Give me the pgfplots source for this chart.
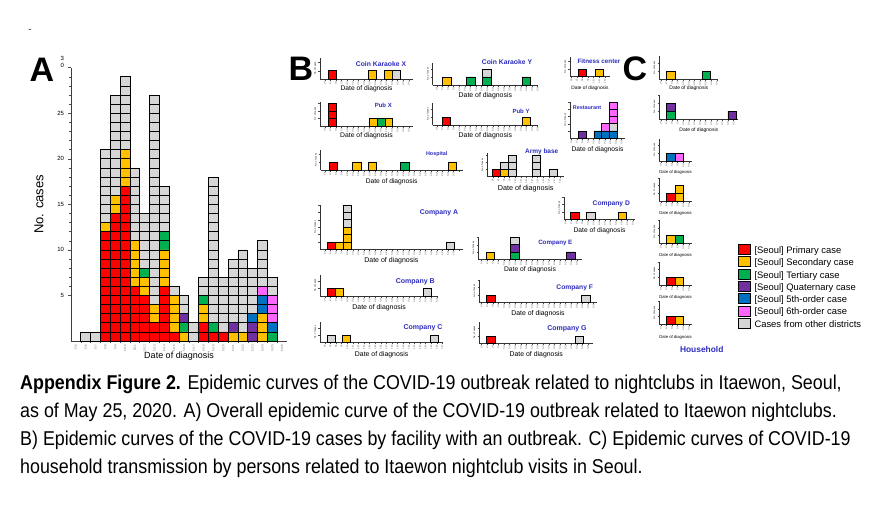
\documentclass[border=0pt]{standalone}
\usepackage{fontspec}
\setmainfont{Liberation Sans}
\newfontfamily\capfont[FakeStretch=0.893]{Liberation Sans}
\usepackage{pgfplots}
\usepackage{pgfplotstable}
\pgfplotsset{compat=1.18}

\definecolor{cR}{RGB}{255,0,0}
\definecolor{cO}{RGB}{255,192,0}
\definecolor{cG}{RGB}{0,176,80}
\definecolor{cP}{RGB}{112,48,160}
\definecolor{cB}{RGB}{0,112,192}
\definecolor{cM}{RGB}{255,102,255}
\definecolor{cK}{RGB}{214,214,214}
\definecolor{ttlc}{RGB}{45,45,190}

% columns: r primary, o secondary, g tertiary, p quaternary, b 5th, q other districts (below 6th), m 6th, k other districts, t total
% panel A, slot 0 = 5/5
\pgfplotstableread{
x r o g p b q m k t
1 0 0 0 0 0 0 0 1 1
2 0 0 0 0 0 0 0 1 1
3 12 1 0 0 0 0 0 8 21
4 14 2 0 0 0 0 0 11 27
5 17 4 0 0 0 0 0 8 29
6 6 5 0 0 0 0 0 8 19
7 5 2 1 0 0 0 0 6 14
8 2 2 0 0 0 0 0 23 27
9 6 4 2 0 0 0 0 5 17
10 1 4 0 0 0 0 0 1 6
11 0 1 1 1 0 0 0 2 5
12 0 0 0 0 0 0 0 2 2
13 2 2 1 0 0 0 0 2 7
14 1 0 1 0 0 0 0 16 18
15 1 0 0 0 0 0 0 6 7
16 0 1 0 1 0 0 0 7 9
17 0 1 0 0 0 0 0 9 10
18 0 0 0 2 1 0 0 5 8
19 0 3 0 0 2 0 1 5 11
20 0 0 1 0 1 0 3 2 7
}\tabA

% panel B / C: x = bar centre in px of the figure
\pgfplotstableread{
x r o g p b q m k t
332.5 1 0 0 0 0 0 0 0 1
372.5 0 1 0 0 0 0 0 0 1
388.1 0 1 0 0 0 0 0 0 1
396.3 0 0 0 0 0 0 0 1 1
}\tCKX
\pgfplotstableread{
x r o g p b q m k t
446.8 0 1 0 0 0 0 0 0 1
470.8 0 0 1 0 0 0 0 0 1
486.7 0 0 1 0 0 0 0 1 2
526.5 0 0 1 0 0 0 0 0 1
}\tCKY
\pgfplotstableread{
x r o g p b q m k t
582.5 1 0 0 0 0 0 0 0 1
599.2 0 1 0 0 0 0 0 0 1
}\tFit
\pgfplotstableread{
x r o g p b q m k t
332.5 3 0 0 0 0 0 0 0 3
373.4 0 1 0 0 0 0 0 0 1
381.1 0 0 1 0 0 0 0 0 1
388.8 0 1 0 0 0 0 0 0 1
}\tPubX
\pgfplotstableread{
x r o g p b q m k t
446.5 1 0 0 0 0 0 0 0 1
526.5 0 1 0 0 0 0 0 0 1
}\tPubY
\pgfplotstableread{
x r o g p b q m k t
582.2 0 0 0 1 0 0 0 0 1
597.8 0 0 0 0 1 0 0 0 1
605.5 0 0 0 0 1 0 1 0 2
613.2 0 0 0 0 1 1 3 0 5
}\tRest
\pgfplotstableread{
x r o g p b q m k t
333.2 1 0 0 0 0 0 0 0 1
356.8 0 1 0 0 0 0 0 0 1
372.5 0 1 0 0 0 0 0 0 1
404.8 0 0 1 0 0 0 0 0 1
452.5 0 1 0 0 0 0 0 0 1
}\tHosp
\pgfplotstableread{
x r o g p b q m k t
496.5 1 0 0 0 0 0 0 0 1
504.4 0 1 0 0 0 0 0 1 2
512.3 0 0 0 0 0 0 0 3 3
536.5 0 0 0 0 0 0 0 3 3
553.3 0 0 0 0 0 0 0 1 1
}\tArmy
\pgfplotstableread{
x r o g p b q m k t
330.8 1 0 0 0 0 0 0 0 1
338.8 0 1 0 0 0 0 0 0 1
346.8 0 3 0 0 0 0 0 3 6
450.5 0 0 0 0 0 0 0 1 1
}\tCoA
\pgfplotstableread{
x r o g p b q m k t
330.8 1 0 0 0 0 0 0 0 1
338.8 0 1 0 0 0 0 0 0 1
426.8 0 0 0 0 0 0 0 1 1
}\tCoB
\pgfplotstableread{
x r o g p b q m k t
330.8 0 0 0 0 0 0 0 1 1
346.7 0 1 0 0 0 0 0 0 1
434.2 0 0 0 0 0 0 0 1 1
}\tCoC
\pgfplotstableread{
x r o g p b q m k t
574.8 1 0 0 0 0 0 0 0 1
590.8 0 0 0 0 0 0 0 1 1
622.5 0 1 0 0 0 0 0 0 1
}\tCoD
\pgfplotstableread{
x r o g p b q m k t
490.2 0 1 0 0 0 0 0 0 1
514.8 0 0 1 1 0 0 0 1 3
570.8 0 0 0 1 0 0 0 0 1
}\tCoE
\pgfplotstableread{
x r o g p b q m k t
490.8 1 0 0 0 0 0 0 0 1
585.8 0 0 0 0 0 0 0 1 1
}\tCoF
\pgfplotstableread{
x r o g p b q m k t
490.8 1 0 0 0 0 0 0 0 1
579.2 0 0 0 0 0 0 0 1 1
}\tCoG
\pgfplotstableread{
x r o g p b q m k t
670.8 0 1 0 0 0 0 0 0 1
706.2 0 0 1 0 0 0 0 0 1
}\tCa
\pgfplotstableread{
x r o g p b q m k t
670.8 0 0 1 1 0 0 0 0 2
732.2 0 0 0 1 0 0 0 0 1
}\tCb
\pgfplotstableread{
x r o g p b q m k t
670.8 0 0 0 0 1 0 0 0 1
679.3 0 0 0 0 0 0 1 0 1
}\tCc
\pgfplotstableread{
x r o g p b q m k t
670.8 1 0 0 0 0 0 0 0 1
679.3 0 2 0 0 0 0 0 0 2
}\tCd
\pgfplotstableread{
x r o g p b q m k t
670.8 0 1 0 0 0 0 0 0 1
679.3 0 0 1 0 0 0 0 0 1
}\tCe
\pgfplotstableread{
x r o g p b q m k t
670.8 1 0 0 0 0 0 0 0 1
679.3 0 1 0 0 0 0 0 0 1
}\tCf
\pgfplotstableread{
x r o g p b q m k t
670.8 1 0 0 0 0 0 0 0 1
679.3 0 1 0 0 0 0 0 0 1
}\tCg

\newcommand\tf[1]{\bfseries\fontsize{#1}{#1}\selectfont}

\pgfplotsset{
  minibase/.style={
    scale only axis, x=1pt, ymin=0, clip=false,
    axis x line=bottom, axis y line=left,
    axis line style={-, line width=0.7pt, black!80},
    tick align=outside, tick style={black!70, line width=0.3pt},
    major tick length=1.6pt,
    xtick distance=5.6,
    xticklabels={5/4,5/5,5/6,5/7,5/8,5/9,5/10,5/11,5/12,5/13,5/14,5/15,5/16,5/17,5/18,5/19,5/20,5/21,5/22,5/23,5/24,5/25,5/26,5/27,5/28,5/29},
    x tick label style={rotate=90, anchor=east, font=\fontsize{2.3}{2.5}\selectfont, text=black!60, inner sep=0.3pt},
    ytick={1,2,3,4,5,6}, yticklabel={\mbox{}},
    ylabel={No. of cases},
    ylabel style={font=\fontsize{2.3}{2.5}\selectfont, at={(axis description cs:0,0.5)}, anchor=center, yshift=5pt},
    xlabel={Date of diagnosis},
    xlabel style={at={(axis description cs:0.5,0)}, anchor=center},
  },
  dl/.style 2 args={xlabel style={yshift=-#1pt, font=\fontsize{#2}{#2}\selectfont}},
  minigrid/.style={scale only axis, x=1pt, ymin=0, clip=false, hide axis},
  cellline/.style={ybar, bar shift=0pt, fill=none, draw=black, line width=0.55pt},
}

% #1 left, #2 baseline, #3 right (px), #4 ymax (cells), #5 cell height, #6 bar width, #7 options, #8 table, #9 tallest bar
\newcommand\cellpanel[9]{%
  \begin{axis}[minibase, at={(#1pt,510pt-#2pt)}, xmin=#1, xmax=#3, ymax=#4, y=#5pt,
      ybar stacked, bar width=#6, #7]
    \addplot[fill=cR, draw=none] table[x=x,y=r]{#8};
    \addplot[fill=cO, draw=none] table[x=x,y=o]{#8};
    \addplot[fill=cG, draw=none] table[x=x,y=g]{#8};
    \addplot[fill=cP, draw=none] table[x=x,y=p]{#8};
    \addplot[fill=cB, draw=none] table[x=x,y=b]{#8};
    \addplot[fill=cK, draw=none] table[x=x,y=q]{#8};
    \addplot[fill=cM, draw=none] table[x=x,y=m]{#8};
    \addplot[fill=cK, draw=none] table[x=x,y=k]{#8};
  \end{axis}
  \begin{axis}[minigrid, at={(#1pt,510pt-#2pt)}, xmin=#1, xmax=#3, ymax=#4, y=#5pt]
    \pgfplotsinvokeforeach{1,...,#9}{%
      \addplot[cellline, bar width=#6, y filter/.expression={y>=##1 ? ##1 : nan}] table[x=x,y=t]{#8};}
  \end{axis}}

\begin{document}
\begin{tikzpicture}[x=1pt,y=1pt]
\fill[white] (0,0) rectangle (889,510);
\path[use as bounding box] (0,0) rectangle (889,510);

%% ---------- panel A ----------
\begin{axis}[scale only axis, at={(71pt,169pt)}, x=9.82pt, y=9.11pt,
    xmin=-0.5, xmax=21.5, ymin=0, ymax=30, clip=false,
    ybar stacked, bar width=1,
    axis x line=bottom, axis y line=left,
    axis line style={-, line width=0.8pt, black!75},
    tick align=outside, tick style={black!70, line width=0.5pt},
    major tick length=3.5pt, minor tick length=2pt,
    ytick={5,10,15,20,25,30},
    yticklabels={5,10,15,20,25,{\raisebox{0pt}[0pt][0pt]{\shortstack{3\\0}}}},
    minor y tick num=4,
    yticklabel style={font=\fontsize{6}{6.5}\selectfont},
    xtick={0,...,21},
    xticklabels={5/5,5/6,5/7,5/8,5/9,5/10,5/11,5/12,5/13,5/14,5/15,5/16,5/17,5/18,5/19,5/20,5/21,5/22,5/23,5/24,5/25,5/26},
    every major x tick/.append style={draw=none},
    minor x tick num=1,
    x tick label style={rotate=90, anchor=east, font=\fontsize{3}{3}\selectfont, text=black!60, inner sep=0.5pt},
    xlabel={Date of diagnosis},
    xlabel style={at={(axis description cs:0.5,0)}, anchor=center, yshift=-15pt, font=\fontsize{9}{10}\selectfont},
    ylabel={No. cases},
    ylabel style={at={(axis description cs:0,0.5)}, anchor=center, yshift=32pt, font=\fontsize{13}{14}\selectfont},
    legend style={at={(3.087,0.355)}, anchor=north west, draw=none, fill=none,
      inner sep=0pt, row sep=0pt, column sep=4.3pt,
      font=\fontsize{9.4}{10}\selectfont,
      nodes={inner sep=0pt, text height=7pt, text depth=3pt}},
    legend cell align=left,
    legend image code/.code={\draw[#1, draw=black, line width=0.6pt] (0pt,-3pt) rectangle (11.5pt,7pt);},
  ]
  \addplot[fill=cR, draw=none] table[x=x,y=r]{\tabA};
  \addplot[fill=cO, draw=none] table[x=x,y=o]{\tabA};
  \addplot[fill=cG, draw=none] table[x=x,y=g]{\tabA};
  \addplot[fill=cP, draw=none] table[x=x,y=p]{\tabA};
  \addplot[fill=cB, draw=none] table[x=x,y=b]{\tabA};
  \addplot[fill=cK, draw=none, forget plot] table[x=x,y=q]{\tabA};
  \addplot[fill=cM, draw=none] table[x=x,y=m]{\tabA};
  \addplot[fill=cK, draw=none] table[x=x,y=k]{\tabA};
  \legend{\relax{}[Seoul] Primary case,\relax{}[Seoul] Secondary case,\relax{}[Seoul] Tertiary case,\relax{}[Seoul] Quaternary case,\relax{}[Seoul] 5th-order case,\relax{}[Seoul] 6th-order case,Cases from other districts}
\end{axis}
\begin{axis}[scale only axis, at={(71pt,169pt)}, x=9.82pt, y=9.11pt,
    xmin=-0.5, xmax=21.5, ymin=0, ymax=30, clip=false, hide axis]
  \pgfplotsinvokeforeach{1,...,29}{%
    \addplot[cellline, line width=0.75pt, bar width=1, y filter/.expression={y>=#1 ? #1 : nan}] table[x=x,y=t]{\tabA};}
\end{axis}

%% ---------- panel B ----------
\cellpanel{320}{79}{413}{2.53}{8.3}{8.2}{dl={10}{6.7}}{\tCKX}{1}
\cellpanel{432.7}{85}{538}{2.75}{8.0}{8.2}{dl={11}{6.9}}{\tCKY}{2}
\cellpanel{570}{76.7}{610}{2.6}{7.7}{8.2}{dl={11.3}{4.8}}{\tFit}{1}
\cellpanel{320}{126}{413}{3.2}{7.6}{7.7}{dl={10}{6.8}}{\tPubX}{3}
\cellpanel{432.7}{125}{538}{2.8}{7.8}{8.3}{dl={11}{6.9}}{\tPubY}{1}
\cellpanel{570}{138.3}{625}{5.0}{7.3}{7.7}{dl={11.7}{6.7}}{\tRest}{5}
\cellpanel{320.7}{170}{462.7}{2.5}{8.0}{8.3}{dl={11.7}{6.7}}{\tHosp}{1}
\cellpanel{487.3}{176.7}{564}{3.2}{7.3}{7.9}{dl={11.6}{7.2}}{\tArmy}{3}
\cellpanel{320}{249.3}{462.7}{6.0}{7.4}{8}{dl={11.7}{7.0}}{\tCoA}{6}
\cellpanel{320}{296}{438.3}{2.8}{7.5}{8}{dl={11.3}{6.9}}{\tCoB}{1}
\cellpanel{320}{342.7}{443.3}{2.8}{7.5}{8}{dl={11.6}{6.9}}{\tCoC}{1}
\cellpanel{564}{219.3}{635}{3.0}{7.5}{8.2}{dl={11.4}{6.7}}{\tCoD}{1}
\cellpanel{478.3}{259.3}{581.7}{3.1}{7.3}{8.3}{dl={10}{6.7}}{\tCoE}{3}
\cellpanel{479.3}{302.3}{596.7}{3.0}{7.5}{8.3}{dl={11.7}{6.9}}{\tCoF}{1}
\cellpanel{479.3}{343.3}{593.3}{2.9}{7.5}{8.3}{dl={11}{6.9}}{\tCoG}{1}

%% ---------- panel C ----------
\cellpanel{659.3}{79}{718.3}{2.9}{7.8}{8.5}{dl={9.5}{5.0}}{\tCa}{1}
\cellpanel{659.3}{119}{738.3}{3.1}{7.8}{8.5}{dl={11.5}{5.0}}{\tCb}{2}
\cellpanel{659.3}{161}{691.7}{2.9}{7.7}{8.5}{dl={11.3}{4.2}}{\tCc}{1}
\cellpanel{659.3}{201}{691.7}{3.0}{7.7}{8.5}{dl={12.5}{4.2}}{\tCd}{2}
\cellpanel{659.3}{243.3}{691.7}{3.0}{7.7}{8.5}{dl={12.5}{4.2}}{\tCe}{1}
\cellpanel{659.3}{285}{691.7}{3.0}{7.7}{8.5}{dl={12.3}{4.2}}{\tCf}{1}
\cellpanel{659.3}{324.3}{691.7}{3.0}{7.7}{8.5}{dl={13}{4.2}}{\tCg}{1}

%% ---------- titles ----------
\begin{scope}[every node/.style={text=ttlc, inner sep=0pt}]
\node[font=\tf{6.8}] at (381,510-64) {Coin Karaoke X};
\node[font=\tf{6.8}] at (507,510-61.7) {Coin Karaoke Y};
\node[font=\tf{6.3}] at (599,510-61.7) {Fitness center};
\node[font=\tf{6.0}] at (383.3,510-105) {Pub X};
\node[font=\tf{6.0}] at (521,510-111.7) {Pub Y};
\node[font=\tf{5.4}] at (587,510-107.7) {Restaurant};
\node[font=\tf{5.4}] at (436.7,510-154.3) {Hospital};
\node[font=\tf{6.5}] at (541.7,510-151.7) {Army base};
\node[font=\tf{6.9}] at (439,510-212.7) {Company A};
\node[font=\tf{7.0}] at (415.3,510-281.7) {Company B};
\node[font=\tf{7.0}] at (423,510-327.7) {Company C};
\node[font=\tf{6.7}] at (611.3,510-204.3) {Company D};
\node[font=\tf{6.2}] at (555.3,510-243.3) {Company E};
\node[font=\tf{6.7}] at (574.7,510-287.7) {Company F};
\node[font=\tf{7.0}] at (567,510-328.7) {Company G};
\node[font=\tf{8.4}] at (701.7,510-350) {Household};
\end{scope}

%% ---------- panel letters, mark, caption ----------
\node[font=\tf{34}, inner sep=0pt] at (42,510-70) {A};
\node[font=\tf{34}, inner sep=0pt] at (301,510-69) {B};
\node[font=\tf{34}, inner sep=0pt] at (635,510-69) {C};
\node[font=\fontsize{10}{10}\selectfont, inner sep=0pt, text=black!80] at (30,510-31) {-};

\begin{scope}[every node/.style={anchor=base west, inner sep=0pt, font=\capfont\fontsize{20}{22}\selectfont}]
\node at (20,510-390) {\textbf{Appendix Figure 2.} Epidemic curves of the COVID-19 outbreak related to nightclubs in Itaewon, Seoul,};
\node at (20,510-418) {as of May 25, 2020. A) Overall epidemic curve of the COVID-19 outbreak related to Itaewon nightclubs.};
\node at (20,510-446) {B) Epidemic curves of the COVID-19 cases by facility with an outbreak. C) Epidemic curves of COVID-19};
\node at (20,510-474) {household transmission by persons related to Itaewon nightclub visits in Seoul.};
\end{scope}
\end{tikzpicture}
\end{document}
